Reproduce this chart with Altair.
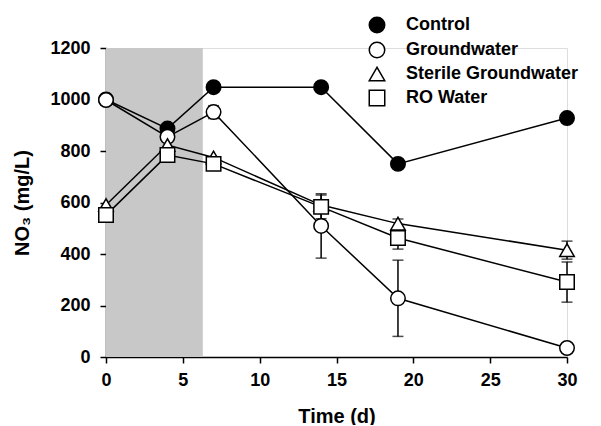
import altair as alt
import pandas as pd

times = [0, 4, 7, 14, 19, 30]
series_names = ["Control", "Groundwater", "Sterile Groundwater", "RO Water"]
control = [1000, 887, 1048, 1048, 750, 928]
groundwater = [998, 855, 951, 509, 228, 35]
sterile = [590, 823, 775, 590, 518, 415]
ro_water = [551, 784, 750, 583, 462, 291]

# error bars: series, time, mean, sd
err_series = ["Groundwater", "Groundwater", "Groundwater", "RO Water", "RO Water", "RO Water", "Sterile Groundwater", "Sterile Groundwater"]
err_time = [7, 14, 19, 14, 19, 30, 19, 30]
err_mean = [951, 509, 228, 583, 462, 291, 518, 415]
err_sd = [25, 125, 148, 46, 43, 78, 18, 35]

shade_start = [0]
shade_end = [6.3]

rows = []
for name, vals in zip(series_names, [control, groundwater, sterile, ro_water]):
    for t, v in zip(times, vals):
        rows.append({"series": name, "time": t, "value": v})
df = pd.DataFrame(rows)
df["order"] = df["series"].map({n: i for i, n in enumerate(series_names)})

err = pd.DataFrame({"series": err_series, "time": err_time, "mean": err_mean, "sd": err_sd})
err["low"] = err["mean"] - err["sd"]
err["high"] = err["mean"] + err["sd"]
caps = pd.concat([
    err[["series", "time", "low"]].rename(columns={"low": "cap"}),
    err[["series", "time", "high"]].rename(columns={"high": "cap"}),
])

shade = pd.DataFrame({"x0": shade_start, "x1": shade_end, "y0": [0], "y1": [1200]})

FONT = "Liberation Sans"
xscale = alt.Scale(domain=[0, 30], nice=False)
yscale = alt.Scale(domain=[0, 1200], nice=False)

xaxis = alt.Axis(values=[i * 2.5 for i in range(13)], labelExpr="datum.value % 5 == 0 ? datum.label : ''",
                 title="Time (d)", grid=False, domainColor="black", domainWidth=1.5, tickColor="black",
                 tickWidth=1.5, tickSize=6, labelPadding=8, labelFontSize=18, labelFontWeight="bold",
                 labelColor="black", labelFont=FONT, titleFont=FONT, titleFontSize=20, titleFontWeight="bold",
                 titleColor="black", titlePadding=17, labelFlush=False)
yaxis = alt.Axis(values=list(range(0, 1201, 100)), labelExpr="datum.value % 200 == 0 ? datum.label : ''",
                 title="NO₃ (mg/L)", grid=False, domainColor="black", domainWidth=1.5, tickColor="black",
                 tickWidth=1.5, tickSize=6, labelPadding=10, labelFontSize=18, labelFontWeight="bold",
                 labelColor="black", labelFont=FONT, titleFont=FONT, titleFontSize=20, titleFontWeight="bold",
                 titleColor="black", titlePadding=17, labelFlush=False, format="d")

rect = alt.Chart(shade).mark_rect(color="#c8c8c8").encode(
    x=alt.X("x0:Q", scale=xscale, axis=xaxis), x2="x1:Q",
    y=alt.Y("y0:Q", scale=yscale, axis=yaxis), y2="y1:Q")

lines = alt.Chart(df).mark_line(color="black", strokeWidth=1.5).encode(
    x=alt.X("time:Q", scale=xscale), y=alt.Y("value:Q", scale=yscale),
    detail="series:N", order="time:Q")

bars = alt.Chart(err).mark_rule(color="black", strokeWidth=1.5).encode(
    x=alt.X("time:Q", scale=xscale), y=alt.Y("low:Q", scale=yscale), y2="high:Q")

capmarks = alt.Chart(caps).mark_tick(color="black", thickness=1.5, size=11, orient="horizontal").encode(
    x=alt.X("time:Q", scale=xscale), y=alt.Y("cap:Q", scale=yscale))

leg = alt.Legend(title=None, orient="none", legendX=262, legendY=-32, padding=0,
                 labelFont=FONT, labelFontSize=18, labelFontWeight="bold", labelColor="black",
                 symbolSize=240, symbolStrokeWidth=1.5, labelOffset=20, rowPadding=3,
                 labelLimit=400)

points = alt.Chart(df).mark_point(filled=True, strokeWidth=1.5, size=210, opacity=1).encode(
    x=alt.X("time:Q", scale=xscale), y=alt.Y("value:Q", scale=yscale),
    shape=alt.Shape("series:N", scale=alt.Scale(domain=series_names, range=["circle", "circle", "triangle-up", "square"]),
                    legend=leg),
    fill=alt.Fill("series:N", scale=alt.Scale(domain=series_names, range=["black", "white", "white", "white"]),
                  legend=leg),
    stroke=alt.Stroke("series:N", scale=alt.Scale(domain=series_names, range=["black", "black", "black", "black"]),
                      legend=leg),
    order=alt.Order("order:Q"))

chart = alt.layer(rect, lines, bars, capmarks, points).properties(
    width=461, height=309,
    autosize=alt.AutoSizeParams(type="none"),
    padding={"left": 98, "top": 40, "right": 20, "bottom": 68},
).configure_view(stroke=None).configure(background="white")

chart.save("out.html", embed_options={"renderer": "svg", "actions": False})
